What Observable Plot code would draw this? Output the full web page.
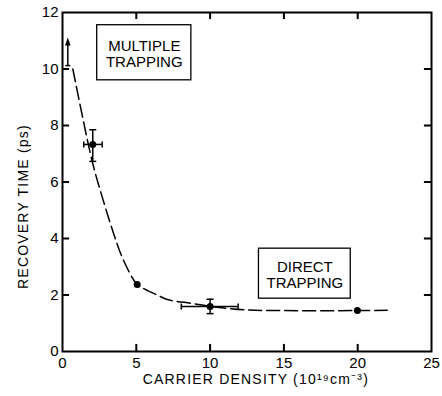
<!DOCTYPE html>
<html><head><meta charset="utf-8">
<script src="https://cdn.jsdelivr.net/npm/d3@7"></script>
<script src="https://cdn.jsdelivr.net/npm/@observablehq/plot@0.6"></script>
<style>body{margin:0;background:#fff} #chart{width:442px;height:396px}</style>
</head><body><div id="chart"></div>
<script>
// Measured points (carrier density, 10^19 cm^-3 ; recovery time, ps)
const pointX = [2.05, 5.06, 10.0, 19.98];
const pointY = [7.33, 2.37, 1.59, 1.45];
// vertical error bars
const vErrX = [2.05, 10.0];
const vErrLo = [6.73, 1.34];
const vErrHi = [7.85, 1.85];
// horizontal error bars
const hErrY = [7.33, 1.59];
const hErrLo = [1.44, 8.05];
const hErrHi = [2.69, 11.9];
// lower-bound point (arrow)
const boundX = [0.36];
const boundLo = [10.12];
const boundHi = [10.83];
// dashed guide curve
const curveX = [0.7, 1.4, 2.05, 2.76, 3.46, 4.14, 5.06, 5.6, 6.5, 7.1, 8.8, 10, 12.5, 15, 17.5, 20, 22];
const curveY = [10.0, 8.2, 6.65, 5.35, 4.18, 3.22, 2.37, 2.2, 1.98, 1.84, 1.70, 1.60, 1.47, 1.45, 1.44, 1.45, 1.46];
// annotation boxes
const boxLabels = ["MULTIPLE\nTRAPPING", "DIRECT\nTRAPPING"];
const boxX1 = [2.35, 13.31];
const boxX2 = [8.73, 19.53];
const boxY1 = [9.60, 1.87];
const boxY2 = [11.55, 3.64];
// ticks
const xTicks = [0, 5, 10, 15, 20, 25];
const yTicks = [0, 2, 4, 6, 8, 10, 12];
const xTitle = "CARRIER DENSITY (10¹⁹cm⁻³)";
const yTitle = "RECOVERY TIME (ps)";
const xTitleAt = [13.1];
const yTitleAt = [5.13];

const points = pointX.map((x, i) => ({x, y: pointY[i]}));
const vErr = vErrX.map((x, i) => ({x, lo: vErrLo[i], hi: vErrHi[i]}));
const hErr = hErrY.map((y, i) => ({y, lo: hErrLo[i], hi: hErrHi[i]}));
const bound = boundX.map((x, i) => ({x, lo: boundLo[i], hi: boundHi[i]}));
const curve = curveX.map((x, i) => ({x, y: curveY[i]}));
const boxes = boxLabels.map((t, i) => ({t, x1: boxX1[i], x2: boxX2[i], y1: boxY1[i], y2: boxY2[i]}));

// custom symbols: radius r = sqrt(size / PI)
const R = size => Math.sqrt(size / Math.PI);
const hCap = {draw(ctx, size) { const w = R(size); ctx.moveTo(-w, 0); ctx.lineTo(w, 0); }};
const vCap = {draw(ctx, size) { const w = R(size); ctx.moveTo(0, -w); ctx.lineTo(0, w); }};
const arrowHead = {draw(ctx, size) { const w = R(size); ctx.moveTo(0, -2 * w); ctx.lineTo(w * 0.7, 0); ctx.lineTo(-w * 0.7, 0); ctx.closePath(); }};

const xMin = 0, xMax = 25, yMin = 0, yMax = 12;
const tickLenY = 0.25;  // inward tick length on horizontal edges (y units)
const tickLenX = 0.48;  // inward tick length on vertical edges (x units)
const inner = a => a.slice(1, -1);
const ink = {stroke: "black", fill: "none", strokeWidth: 1.5};
const tk = {stroke: "black", strokeWidth: 2};

const chart = Plot.plot({
  width: 442, height: 396,
  marginLeft: 62, marginRight: 11, marginTop: 12, marginBottom: 45,
  x: {domain: [xMin, xMax]},
  y: {domain: [yMin, yMax]},
  style: {fontFamily: "Liberation Sans, Arial, sans-serif", fontSize: "15px", color: "black", background: "white"},
  marks: [
    Plot.frame({stroke: "black", fill: "none", strokeWidth: 2}),
    Plot.axisX({ticks: xTicks, tickSize: 0, tickPadding: 6, fontSize: 15, label: null}),
    Plot.axisY({ticks: yTicks, tickSize: 0, tickPadding: 4, fontSize: 15, label: null}),
    // inward ticks on all four sides
    Plot.ruleX(inner(xTicks), {x: d => d, y1: yMin, y2: yMin + tickLenY, ...tk}),
    Plot.ruleX(inner(xTicks), {x: d => d, y1: yMax - tickLenY, y2: yMax, ...tk}),
    Plot.ruleY(inner(yTicks), {y: d => d, x1: xMin, x2: xMin + tickLenX, ...tk}),
    Plot.ruleY(inner(yTicks), {y: d => d, x1: xMax - tickLenX, x2: xMax, ...tk}),
    // annotation boxes
    Plot.rect(boxes, {x1: "x1", x2: "x2", y1: "y1", y2: "y2", fill: "none", stroke: "black", strokeWidth: 1.3}),
    Plot.text(boxes, {x: d => (d.x1 + d.x2) / 2, y: d => (d.y1 + d.y2) / 2, text: "t", fontSize: 15, lineHeight: 1.1, dy: 1}),
    // dashed curve
    Plot.line(curve, {x: "x", y: "y", curve: "catmull-rom", stroke: "black", strokeWidth: 1.5, strokeDasharray: "13,5"}),
    // error bars
    Plot.ruleX(vErr, {x: "x", y1: "lo", y2: "hi", stroke: "black", strokeWidth: 1.5}),
    Plot.dot(vErr, {x: "x", y: "lo", symbol: hCap, r: 3.5, ...ink}),
    Plot.dot(vErr, {x: "x", y: "hi", symbol: hCap, r: 3.5, ...ink}),
    Plot.ruleY(hErr, {y: "y", x1: "lo", x2: "hi", stroke: "black", strokeWidth: 1.5}),
    Plot.dot(hErr, {x: "lo", y: "y", symbol: vCap, r: 3, ...ink}),
    Plot.dot(hErr, {x: "hi", y: "y", symbol: vCap, r: 3, ...ink}),
    // lower-bound arrow
    Plot.ruleX(bound, {x: "x", y1: "lo", y2: "hi", stroke: "black", strokeWidth: 1.5}),
    Plot.dot(bound, {x: "x", y: "lo", symbol: hCap, r: 2.5, ...ink}),
    Plot.dot(bound, {x: "x", y: "hi", symbol: arrowHead, r: 4, fill: "black", stroke: "none"}),
    // data points
    Plot.dot(points, {x: "x", y: "y", r: 3.5, fill: "black", stroke: "none"}),
    // axis titles
    Plot.text(xTitleAt, {x: d => d, frameAnchor: "bottom", text: () => xTitle, dy: 32, fontSize: 14, textAnchor: "middle"}),
    Plot.text(yTitleAt, {y: d => d, frameAnchor: "left", text: () => yTitle, rotate: -90, dx: -39, fontSize: 14, textAnchor: "middle"})
  ]
});
d3.select(chart).selectAll("text")
  .filter(function () { return this.textContent === xTitle || this.textContent === yTitle; })
  .style("letter-spacing", "1.2px");
document.getElementById("chart").appendChild(chart);
</script>
</body></html>
